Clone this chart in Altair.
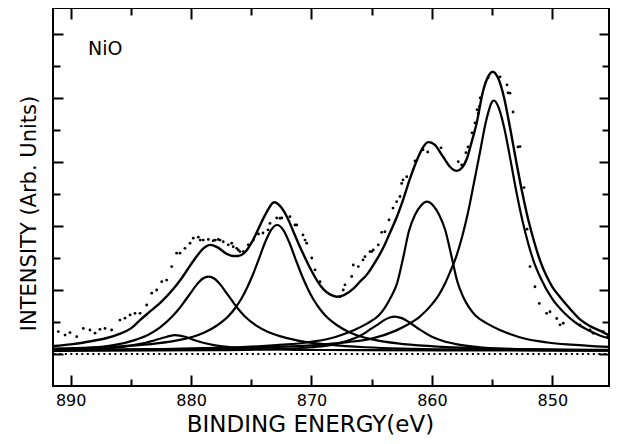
import altair as alt
import pandas as pd

# ---------------- data ----------------
# energies (eV) and intensities (arb. units, dotted background = 1.0)
baseline_E = [891.4, 844.7]
baseline_v = [1.0, 1.0]

env_E = [891.4, 890, 889, 888, 887, 886, 885, 884.24, 883.5, 882.5, 881.5, 880.8, 880.08, 879.5, 879,
         878.42, 877.8, 877, 876.5, 876.1, 875.6, 874.86, 874.3, 873.7, 873.11, 872.6, 872.03, 871.5,
         871, 870.5, 870, 869.5, 869, 868.5, 867.9, 867.3, 866.5, 866, 865.4, 865, 864.5, 864, 863.5,
         863, 862.4, 861.8, 861.24, 860.8, 860.3, 859.8, 859.1, 858.5, 857.94, 857.5, 857.1, 856.7,
         856.28, 855.76, 855.35, 854.95, 854.5, 854, 853.5, 853, 852.5, 852, 851.5, 851, 850.5, 850,
         849.36, 848.5, 847.7, 847, 846, 845.48, 844.7]
env_v = [1.25, 1.30, 1.35, 1.42, 1.50, 1.62, 1.80, 2.06, 2.30, 2.62, 3.02, 3.36, 3.76, 4.07, 4.29,
         4.41, 4.33, 4.12, 4.06, 4.06, 4.15, 4.56, 5.00, 5.45, 5.74, 5.62, 5.28, 4.82,
         4.38, 3.98, 3.60, 3.27, 3.02, 2.87, 2.79, 2.84, 3.05, 3.25, 3.48, 3.70, 4.00, 4.35, 4.77,
         5.20, 5.81, 6.50, 7.06, 7.42, 7.62, 7.55, 7.18, 6.85, 6.72, 6.82, 7.10, 7.62,
         8.22, 9.20, 9.65, 9.82, 9.62, 9.00, 8.05, 7.02, 6.05, 5.20, 4.50, 3.90, 3.45, 3.10,
         2.78, 2.40, 2.08, 1.90, 1.72, 1.62, 1.55]

# component 1 (~854.9 eV)
c1_E = [891.4, 885, 880, 875, 870, 867, 865, 863, 862, 861, 860, 859.5, 859, 858.5, 858, 857.5, 857,
        856.5, 856, 855.5, 855, 854.85, 854.5, 854, 853.5, 853, 852.5, 852, 851.5, 851, 850, 849,
        848, 847, 846, 844.7]
c1_v = [1.12, 1.14, 1.16, 1.20, 1.27, 1.37, 1.48, 1.73, 1.92, 2.17, 2.55, 2.80, 3.13, 3.55, 4.02,
        4.65, 5.42, 6.36, 7.32, 8.28, 8.88, 8.92, 8.74, 8.08, 7.12, 6.10, 5.20, 4.45, 3.85, 3.40,
        2.72, 2.28, 1.96, 1.74, 1.57, 1.44]

# component 2 (~860.4 eV)
c2_E = [891.4, 880.4, 875.4, 872.4, 870.4, 868.4, 867.4, 866.4, 865.4, 864.4, 863.9, 863.4, 862.9,
        862.4, 861.9, 861.4, 860.9, 860.4, 859.9, 859.4, 858.9, 858.4, 857.9, 857.4, 856.9, 856.4,
        855.4, 854.4, 853.4, 852.4, 850.4, 848.4, 846.4, 844.7]
c2_v = [1.13, 1.17, 1.22, 1.29, 1.36, 1.49, 1.61, 1.76, 1.95, 2.21, 2.45, 2.78, 3.20,
        3.98, 4.85, 5.35, 5.64, 5.76, 5.64, 5.35, 4.88, 4.10, 3.28, 2.78, 2.45, 2.21,
        1.95, 1.76, 1.61, 1.49, 1.36, 1.29, 1.24, 1.21]

# component 3 (~863.1 eV)
c3_E = [891.4, 878, 873, 870, 868, 867, 866, 865, 864.5, 864, 863.5, 863.06, 862.5, 862, 861.5,
        861, 860, 859, 858, 856, 853, 848, 844.7]
c3_v = [1.10, 1.12, 1.15, 1.21, 1.31, 1.41, 1.56, 1.80, 1.92, 2.05, 2.14, 2.17, 2.12, 2.02, 1.89,
        1.76, 1.54, 1.40, 1.31, 1.21, 1.15, 1.12, 1.11]

# component 4 (~872.9 eV)
c4_E = [891.4, 885.85, 882.85, 880.85, 879.85, 878.85, 877.85, 876.85, 876.35, 875.85, 875.35,
        874.85, 874.35, 873.85, 873.35, 872.85, 872.35, 871.85, 871.35, 870.85, 870.35, 869.85,
        869.35, 868.85, 867.85, 866.85, 865.85, 864.85, 862.85, 859.85, 854.85, 844.7]
c4_v = [1.17, 1.24, 1.33, 1.45, 1.54, 1.68, 1.89, 2.20, 2.43, 2.71, 3.07,
        3.50, 3.99, 4.49, 4.88, 5.03, 4.88, 4.49, 3.99, 3.50, 3.07, 2.71,
        2.43, 2.20, 1.89, 1.68, 1.54, 1.45, 1.33, 1.24, 1.17, 1.13]

# component 5 (~878.5 eV)
c5_E = [891.4, 886.55, 884.55, 883.55, 882.55, 881.55, 881.05, 880.55, 880.05, 879.55, 879.05,
        878.55, 878.05, 877.55, 877.05, 876.55, 876.05, 875.55, 874.55, 873.55, 872.55, 870.55,
        868.55, 865.55, 858.55, 844.7]
c5_v = [1.13, 1.27, 1.45, 1.60, 1.84, 2.18, 2.39, 2.64, 2.90, 3.16, 3.35,
        3.42, 3.35, 3.16, 2.90, 2.64, 2.39, 2.18, 1.88, 1.68, 1.55, 1.38,
        1.29, 1.21, 1.145, 1.115]

# component 6 (~881.3 eV)
c6_E = [891.4, 889, 887, 886, 885, 884, 883, 882, 881.34, 880.5, 880, 879, 878, 877, 876, 874, 871,
        866, 855, 844.7]
c6_v = [1.12, 1.14, 1.18, 1.21, 1.26, 1.33, 1.43, 1.54, 1.59, 1.54, 1.47, 1.35, 1.27, 1.22, 1.19,
        1.15, 1.13, 1.12, 1.11, 1.10]

# measured points
pts_E = [891.03, 890.47, 890.06, 889.50, 888.95, 888.40, 887.98, 887.57, 887.15, 886.60, 885.91,
         885.49, 885.07, 884.66, 884.24, 883.69, 883.27, 882.86, 882.44, 882.03, 881.61, 881.20,
         880.92, 880.51, 880.09, 879.82, 879.40, 879.24, 878.99, 878.57, 878.16, 877.99, 877.74,
         877.60, 877.33, 876.91, 876.63, 876.50, 876.21, 876.08, 875.94, 875.66, 875.25, 874.83,
         874.40, 874.03, 873.61, 873.45, 872.89, 872.62, 872.47, 871.79, 871.37, 871.23, 870.71,
         870.54, 870.40, 869.98, 869.71, 869.29, 867.63, 867.36, 867.22, 866.66, 866.53, 866.11,
         865.72, 865.56, 865.14, 865.00, 864.87, 864.45, 864.17, 863.90, 863.56, 863.23, 862.93,
         862.65, 862.51, 862.40, 862.09, 861.40, 860.74, 860.35, 859.24, 857.81, 857.53, 857.17,
         857.00, 856.67, 856.42, 856.25, 856.15, 856.06, 855.99, 855.33, 854.34, 853.76, 853.68,
         853.51, 853.26, 852.85, 852.68, 852.35, 852.10, 851.85, 851.44, 851.08, 850.47, 850.19,
         849.63, 849.36, 849.09, 847.70, 846.87, 846.60, 845.76, 845.40]
pts_v = [1.70, 1.59, 1.67, 1.54, 1.80, 1.75, 1.65, 1.77, 1.80, 1.75, 2.06,
         2.12, 2.22, 2.27, 2.27, 2.53, 2.90, 3.00, 3.26, 3.31, 3.73, 4.15,
         4.15, 4.30, 4.46, 4.62, 4.65, 4.56, 4.56, 4.58, 4.54, 4.56, 4.58,
         4.56, 4.51, 4.41, 4.46, 4.35, 4.30, 4.25, 4.20, 4.20, 4.41, 4.56,
         4.75, 4.78, 4.88, 5.08, 5.25, 5.24, 5.25, 5.29, 5.03, 5.03, 4.72,
         4.56, 4.46, 4.00, 3.63, 3.26, 2.79, 3.00, 3.16, 3.42, 3.78, 3.73,
         3.94, 4.04, 4.20, 4.20, 4.25, 4.41, 4.80, 4.82, 5.19, 5.56, 5.76,
         5.92, 6.33, 6.44, 6.54, 7.03, 7.38, 7.31, 7.44, 7.01, 6.91, 7.29,
         7.47, 7.91, 8.22, 8.63, 8.52, 8.73, 9.00, 9.63, 9.66, 9.41, 9.16,
         9.15, 8.56, 7.47, 7.48, 6.20, 4.90, 3.73, 3.10, 2.58, 2.27, 2.32,
         2.11, 1.91, 1.96, 1.91, 1.75, 1.65, 1.70, 1.54]

x_major = [890, 880, 870, 860, 850]
x_minor = [885, 875, 865, 855]
y_major = [1, 3, 5, 7, 9, 11]
y_minor = [2, 4, 6, 8, 10]
x_domain = [845.29, 891.47]
y_domain = [0, 11.81]
label_text = ["NiO"]
x_title = "BINDING ENERGY(eV)"
y_title = "INTENSITY (Arb. Units)"

FONT = "DejaVu Sans"
xs = alt.Scale(domain=x_domain, reverse=True, nice=False, zero=False)
ys = alt.Scale(domain=y_domain, nice=False, zero=False)


def xaxis(orient, values, size, labels=False, title=None):
    kw = dict(orient=orient, values=values, offset=-size, tickSize=size, tickWidth=2,
              tickColor="black", domain=False, grid=False, labels=labels)
    if labels:
        kw.update(labelFont=FONT, labelFontSize=16, labelColor="black", labelPadding=6,
                  format="d", labelFlush=False, labelOverlap=False)
    if title:
        kw.update(title=title, titleFont=FONT, titleFontSize=23, titleFontWeight="normal",
                  titleColor="black", titleX=257, titleY=56, titleAlign="center",
                  titleBaseline="alphabetic")
    else:
        kw.update(title=None)
    return alt.Axis(**kw)


def yaxis(orient, values, size, title=None):
    kw = dict(orient=orient, values=values, offset=-size, tickSize=size, tickWidth=2,
              tickColor="black", domain=False, grid=False, labels=False)
    if title:
        kw.update(title=title, titleFont=FONT, titleFontSize=21, titleFontWeight="normal",
                  titleColor="black", titleX=-28, titleY=205, titleAngle=270,
                  titleAlign="center", titleBaseline="alphabetic")
    else:
        kw.update(title=None)
    return alt.Axis(**kw)


def line(E, v, ax_x=None, ax_y=None, interp="monotone", **mark):
    df = pd.DataFrame({"E": E, "v": v})
    return alt.Chart(df).mark_line(clip=True, color="black", interpolate=interp, **mark).encode(
        x=alt.X("E:Q", scale=xs, axis=ax_x),
        y=alt.Y("v:Q", scale=ys, axis=ax_y),
        order=alt.Order("E:Q", sort="descending"),
    )


base = line(baseline_E, baseline_v,
            xaxis("bottom", x_major, 11, labels=True, title=x_title),
            yaxis("left", y_major, 10, title=y_title),
            interp="linear", strokeDash=[2, 3.5], strokeWidth=2)
l1 = line(c1_E, c1_v, xaxis("bottom", x_minor, 7), yaxis("left", y_minor, 7), strokeWidth=2.2)
l2 = line(c2_E, c2_v, xaxis("top", x_major, 11), yaxis("right", y_major, 10), strokeWidth=2.2)
l3 = line(c3_E, c3_v, xaxis("top", x_minor, 7), yaxis("right", y_minor, 7), strokeWidth=2.2)
l4 = line(c4_E, c4_v, strokeWidth=2.2)
l5 = line(c5_E, c5_v, strokeWidth=2.2)
l6 = line(c6_E, c6_v, strokeWidth=2.2)
lenv = line(env_E, env_v, strokeWidth=2.4)

pts = alt.Chart(pd.DataFrame({"E": pts_E, "v": pts_v})).mark_circle(
    size=8, color="black", opacity=1, clip=True).encode(
    x=alt.X("E:Q", scale=xs, axis=None),
    y=alt.Y("v:Q", scale=ys, axis=None),
)

label = alt.Chart(pd.DataFrame({"t": label_text})).mark_text(
    align="left", baseline="alphabetic", font=FONT, fontSize=19, color="black").encode(
    text="t:N", x=alt.value(35), y=alt.value(47))

chart = alt.layer(base, l1, l2, l3, l4, l5, l6, lenv, pts, label).resolve_axis(
    x="independent", y="independent"
).properties(
    width=556, height=378,
    autosize=alt.AutoSizeParams(type="none"),
    padding={"left": 45, "top": 0, "right": 1, "bottom": 50},
    background="white",
).configure_view(stroke="black", strokeWidth=2)

chart.save("out.html", embed_options={"renderer": "svg", "actions": False})
